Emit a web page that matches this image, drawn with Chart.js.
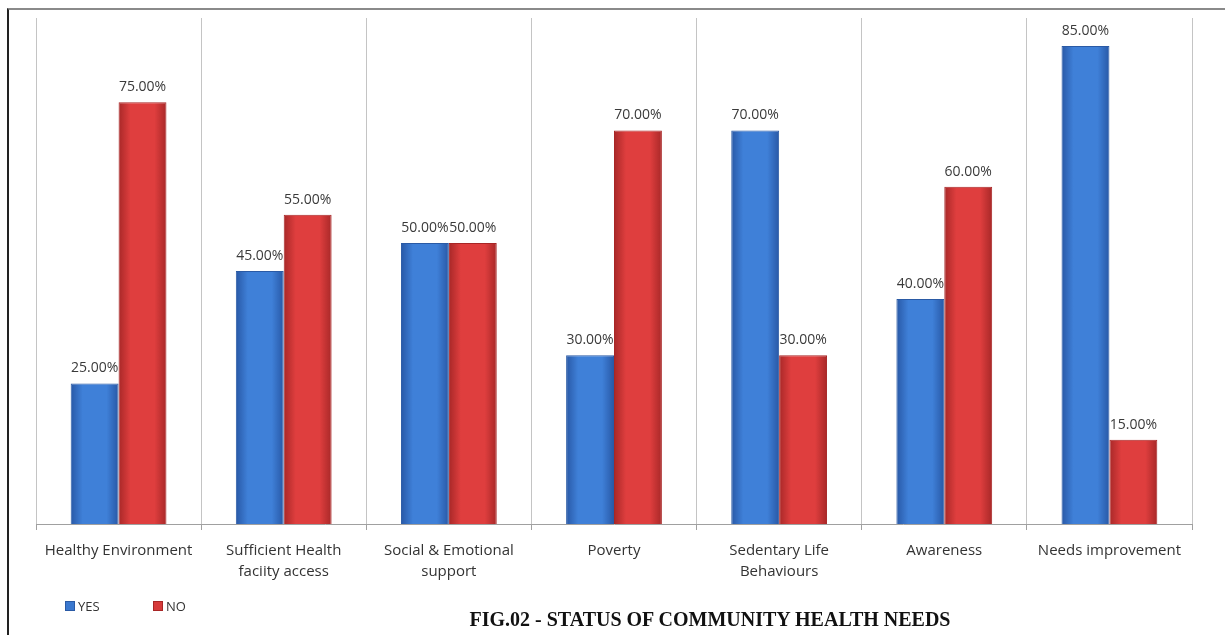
<!DOCTYPE html>
<html>
<head>
<meta charset="utf-8">
<script src="https://cdn.jsdelivr.net/npm/chart.js@4"></script>
<style>
  body { margin: 0; background: #fff; width: 1225px; height: 635px; overflow: hidden; position: relative; }
  #frame { position: absolute; left: 7px; top: 8px; width: 1218px; height: 627px; border-left: 2px solid #222; border-top: 2px solid #8a8a8a; }
  #wrap { position: absolute; left: 9px; top: 10px; width: 1216px; height: 600px; }
  #legend { position: absolute; left: 65px; top: 595px; font-family: 'Open Sans', sans-serif; font-size: 13px; color: #333; }
  #legend span { display: inline-block; vertical-align: middle; }
  .box { width: 8px; height: 8px; margin-right: 3px; }
  #title { position: absolute; left: 0; width: 1420px; top: 608px; text-align: center; font-family: 'Liberation Serif', serif; font-weight: bold; font-size: 20px; color: #111; }
</style>
</head>
<body>
<div id="frame"></div>
<div id="wrap"><canvas id="chart"></canvas></div>
<div id="legend">
  <span class="box" style="background:#3a78cf;border:1px solid #2a5aa5"></span><span style="margin-right:50px">YES</span>
  <span class="box" style="background:#d63a3a;border:1px solid #a82626"></span><span>NO</span>
</div>
<div id="title">FIG.02 - STATUS OF COMMUNITY HEALTH NEEDS</div>
<script>
const categories = [
  'Healthy Environment',
  ['Sufficient Health', 'faciity access'],
  ['Social & Emotional', 'support'],
  'Poverty',
  ['Sedentary Life', 'Behaviours'],
  'Awareness',
  'Needs improvement'
];
const yesValues = [25, 45, 50, 30, 70, 40, 85];
const noValues = [75, 55, 50, 70, 30, 60, 15];

// edge / centre colours for the bevelled look
const barShades = [
  ['#2858a6', '#3f80d8'],
  ['#a82828', '#df3e3e']
];

// give each bar its own horizontal gradient once positions are known
const barShading = {
  id: 'barShading',
  beforeDatasetsDraw(chart) {
    const ctx = chart.ctx;
    chart.data.datasets.forEach((ds, i) => {
      chart.getDatasetMeta(i).data.forEach(bar => {
        const half = bar.width / 2;
        const g = ctx.createLinearGradient(bar.x - half, 0, bar.x + half, 0);
        g.addColorStop(0, barShades[i][0]);
        g.addColorStop(0.25, barShades[i][1]);
        g.addColorStop(0.75, barShades[i][1]);
        g.addColorStop(1, barShades[i][0]);
        bar.options = Object.assign({}, bar.options, { backgroundColor: g });
      });
    });
  }
};

const valueLabels = {
  id: 'valueLabels',
  afterDatasetsDraw(chart) {
    const ctx = chart.ctx;
    ctx.save();
    ctx.font = '14px "Open Sans", sans-serif';
    ctx.fillStyle = '#3a3a3a';
    ctx.textAlign = 'center';
    ctx.textBaseline = 'bottom';
    chart.data.datasets.forEach((ds, i) => {
      chart.getDatasetMeta(i).data.forEach((bar, j) => {
        ctx.fillText(ds.data[j].toFixed(2) + '%', bar.x, bar.y - 8);
      });
    });
    ctx.restore();
  }
};

new Chart(document.getElementById('chart'), {
  type: 'bar',
  data: {
    labels: categories,
    datasets: [
      {
        label: 'YES',
        data: yesValues,
        backgroundColor: c => barShades[0][1],
        borderColor: '#2a5aa5',
        borderWidth: 1
      },
      {
        label: 'NO',
        data: noValues,
        backgroundColor: c => barShades[1][1],
        borderColor: '#a82626',
        borderWidth: 1
      }
    ]
  },
  options: {
    responsive: true,
    maintainAspectRatio: false,
    animation: false,
    categoryPercentage: 0.58,
    barPercentage: 1,
    layout: { padding: { left: 27, right: 33, top: 8, bottom: 20 } },
    plugins: {
      legend: { display: false },
      tooltip: { enabled: false }
    },
    scales: {
      x: {
        afterFit: s => { s.height = 66; },
        grid: { offset: true, color: '#c4c4c4', tickLength: 6, tickColor: '#a0a0a0' },
        border: { color: '#a0a0a0' },
        ticks: {
          padding: 10,
          maxRotation: 0,
          color: '#333',
          font: { family: 'Open Sans', size: 15, lineHeight: 1.4 }
        }
      },
      y: { display: false, min: 0, max: 90 }
    }
  },
  plugins: [barShading, valueLabels]
});
</script>
</body>
</html>
